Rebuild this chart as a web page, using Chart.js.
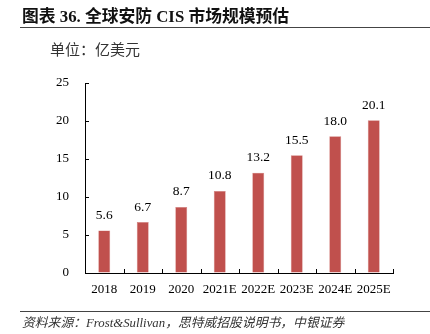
<!DOCTYPE html>
<html>
<head>
<meta charset="utf-8">
<script src="https://cdn.jsdelivr.net/npm/chart.js@4"></script>
<style>
  html, body { margin:0; padding:0; background:#fff; }
  #wrap { position:relative; width:430px; height:334px; overflow:hidden; }
  #c { position:absolute; left:0; top:0; }
  .title { position:absolute; left:22px; top:3px; font: bold 16.8px "Liberation Serif", "Noto Sans CJK SC", serif; color:#111; white-space:nowrap; }
  .hline { position:absolute; left:20px; right:0; height:1px; background:#444; }
  .unit { position:absolute; left:50px; top:38px; font: 15px "Liberation Serif", "Noto Sans CJK SC", serif; color:#333; white-space:nowrap; }
  .src { position:absolute; left:22px; top:312px; font: italic 12.8px "Liberation Serif", "Noto Sans CJK SC", serif; color:#333; white-space:nowrap; }
</style>
</head>
<body>
<div id="wrap">
  <canvas id="c" width="430" height="334"></canvas>
  <div class="title">图表 36. 全球安防 CIS 市场规模预估</div>
  <div class="hline" style="top:27px"></div>
  <div class="unit">单位：亿美元</div>
  <div class="hline" style="top:311px"></div>
  <div class="src">资料来源：Frost&amp;Sullivan，思特威招股说明书，中银证券</div>
</div>
<script>
const categories = ["2018", "2019", "2020", "2021E", "2022E", "2023E", "2024E", "2025E"];
const marketSize = [5.6, 6.7, 8.7, 10.8, 13.2, 15.5, 18.0, 20.1];
const yTicks = [0, 5, 10, 15, 20, 25];

const tickFont = { family: "'Liberation Serif', serif", size: 13 };

const innerTicks = {
  id: 'innerTicks',
  afterDraw(chart) {
    const ctx = chart.ctx;
    const x = chart.scales.x, y = chart.scales.y;
    const ca = chart.chartArea;
    ctx.save();
    ctx.strokeStyle = '#000';
    ctx.lineWidth = 1;
    ctx.beginPath();
    yTicks.forEach(v => {
      if (v === 0) return;
      const py = Math.round(y.getPixelForValue(v)) + 0.5;
      ctx.moveTo(ca.left, py); ctx.lineTo(ca.left + 4, py);
    });
    for (let i = 0; i < categories.length; i++) {
      const px = Math.round(x.getPixelForValue(i) + (x.getPixelForValue(1) - x.getPixelForValue(0)) / 2) + 0.5;
      ctx.moveTo(px, ca.bottom); ctx.lineTo(px, ca.bottom - 4);
    }
    ctx.stroke();
    ctx.restore();
  }
};

const valueLabels = {
  id: 'valueLabels',
  afterDatasetsDraw(chart) {
    const ctx = chart.ctx;
    const meta = chart.getDatasetMeta(0);
    ctx.save();
    ctx.font = "13.5px 'Liberation Serif', serif";
    ctx.fillStyle = '#000';
    ctx.textAlign = 'center';
    ctx.textBaseline = 'middle';
    meta.data.forEach((bar, i) => {
      ctx.fillText(marketSize[i].toFixed(1), bar.x, bar.y - 15);
    });
    ctx.restore();
  }
};

new Chart(document.getElementById('c'), {
  type: 'bar',
  data: {
    labels: categories,
    datasets: [{
      data: marketSize,
      backgroundColor: '#C0504D',
      borderColor: '#D27F7D',
      borderWidth: 0.6,
      barPercentage: 0.31,
      categoryPercentage: 1.0
    }]
  },
  options: {
    responsive: false,
    animation: false,
    devicePixelRatio: 1,
    layout: { padding: { left: 0, right: 37, top: 83, bottom: 0 } },
    plugins: { legend: { display: false }, tooltip: { enabled: false } },
    scales: {
      x: {
        grid: { display: true, drawOnChartArea: false, drawTicks: false },
        border: { display: true, color: '#000', width: 1 },
        ticks: { font: tickFont, color: '#000', padding: 9, maxRotation: 0, autoSkip: false },
        afterFit(s) { s.height = 61; }
      },
      y: {
        min: 0, max: 25,
        afterBuildTicks(s) { s.ticks = yTicks.map(v => ({ value: v })); },
        grid: { display: true, drawOnChartArea: false, drawTicks: false },
        border: { display: true, color: '#000', width: 1 },
        ticks: { font: tickFont, color: '#000', padding: 16 },
        afterFit(s) { s.width = 85; }
      }
    }
  },
  plugins: [innerTicks, valueLabels]
});
</script>
</body>
</html>
